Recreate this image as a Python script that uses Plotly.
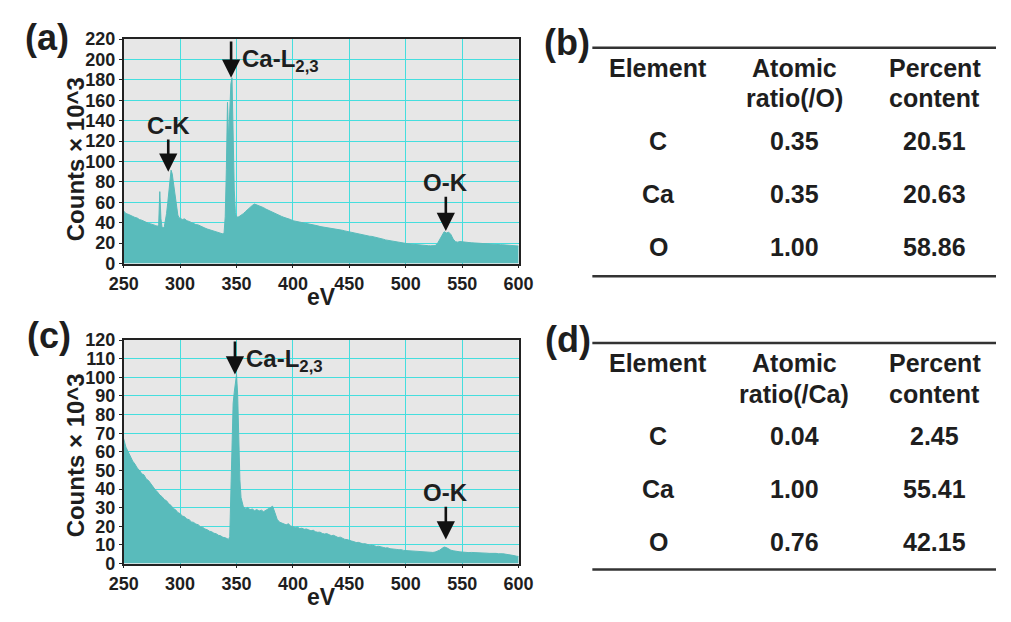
import plotly.graph_objects as go

# ---------------- data ----------------
energy_a = [250, 252, 254, 256, 258, 260, 262, 264, 266, 268, 270, 272, 274, 276, 278, 280,
            281, 282, 283, 284, 285, 286, 287, 288, 289, 290, 291, 292, 293, 294, 295, 296,
            297, 298, 299, 300, 302, 304, 306, 308, 310, 312, 314, 316, 318, 320, 322, 324,
            326, 328, 330, 332, 334, 336, 338, 339, 340, 341, 342, 343, 344, 345, 346, 347,
            348, 349, 350, 352, 354, 356, 358, 360, 362, 364, 366, 368, 370, 372, 374, 376,
            378, 380, 382, 384, 386, 388, 390, 392, 394, 396, 398, 400, 402, 404, 406, 408,
            410, 412, 414, 416, 418, 420, 422, 424, 426, 428, 430, 432, 434, 436, 438, 440,
            442, 444, 446, 448, 450, 452, 454, 456, 458, 460, 462, 464, 466, 468, 470, 472,
            474, 476, 478, 480, 482, 484, 486, 488, 490, 492, 494, 496, 498, 500, 502, 504,
            506, 508, 510, 512, 514, 516, 518, 520, 522, 524, 526, 528, 530, 532, 534, 536,
            538, 540, 542, 544, 546, 548, 550, 552, 554, 556, 558, 560, 562, 564, 566, 568,
            570, 572, 574, 576, 578, 580, 582, 584, 586, 588, 590, 592, 594, 596, 598, 600]
counts_a = [51.5, 49.0, 48.3, 47.0, 46.4, 45.2, 44.6, 43.1, 42.5, 41.2, 40.6, 39.4, 38.9, 37.8, 37.4, 36.5,
            38.0, 70.5, 44.0, 35.5, 34.8, 36.0, 41.0, 49.0, 59.0, 72.0, 84.0, 91.5, 88.0, 79.0, 70.0, 62.0,
            52.0, 47.5, 45.0, 44.5, 43.2, 43.8, 42.0, 41.3, 40.1, 39.6, 38.2, 37.9, 36.6, 36.0, 34.8, 33.9,
            33.2, 32.4, 31.5, 30.9, 30.2, 29.6, 29.0, 30.5, 46.0, 92.0, 158.0, 121.0, 146.0, 176.0, 182.0, 118.0,
            72.0, 50.0, 45.5, 45.8, 47.2, 48.9, 51.0, 53.2, 55.1, 57.0, 58.3, 57.6, 56.9, 55.6, 54.8, 53.4,
            52.3, 51.0, 50.2, 48.9, 48.1, 47.0, 46.2, 45.3, 44.8, 43.7, 43.1, 42.0, 41.6, 41.0, 40.6, 40.2,
            39.8, 39.5, 39.0, 38.4, 38.0, 37.4, 37.0, 36.3, 36.0, 35.4, 35.0, 34.6, 34.3, 34.0, 33.6, 33.4,
            33.0, 32.6, 32.0, 31.5, 31.0, 30.3, 29.8, 29.4, 28.7, 28.3, 27.8, 27.5, 27.1, 26.8, 26.6, 26.2,
            25.6, 25.0, 24.4, 23.9, 23.2, 22.8, 22.1, 21.7, 21.2, 20.9, 20.6, 20.3, 20.1, 19.8, 19.4, 19.2,
            18.9, 18.7, 18.5, 18.2, 18.0, 17.8, 17.7, 17.5, 17.4, 17.2, 17.6, 19.5, 23.5, 28.0, 31.2, 30.0,
            30.8, 28.5, 24.0, 21.5, 21.0, 21.6, 21.2, 20.8, 21.0, 20.6, 20.4, 20.2, 20.3, 19.9, 19.8, 19.6,
            19.4, 19.3, 19.1, 19.0, 18.9, 18.7, 18.6, 18.5, 18.4, 18.3, 18.1, 18.0, 17.8, 17.6, 17.4, 17.2]

energy_c = [250, 252, 254, 256, 258, 260, 262, 264, 266, 268, 270, 272, 274, 276, 278, 280,
            282, 284, 286, 288, 290, 292, 294, 296, 298, 300, 302, 304, 306, 308, 310, 312,
            314, 316, 318, 320, 322, 324, 326, 328, 330, 332, 334, 336, 338, 340, 342, 343,
            344, 345, 346, 347, 348, 349, 350, 351, 352, 353, 354, 355, 356, 358, 360, 362,
            364, 366, 368, 370, 372, 374, 376, 378, 380, 382, 384, 386, 388, 390, 392, 394,
            396, 398, 400, 402, 404, 406, 408, 410, 412, 414, 416, 418, 420, 422, 424, 426,
            428, 430, 432, 434, 436, 438, 440, 442, 444, 446, 448, 450, 452, 454, 456, 458,
            460, 462, 464, 466, 468, 470, 472, 474, 476, 478, 480, 482, 484, 486, 488, 490,
            492, 494, 496, 498, 500, 502, 504, 506, 508, 510, 512, 514, 516, 518, 520, 522,
            524, 526, 528, 530, 532, 534, 536, 538, 540, 542, 544, 546, 548, 550, 552, 554,
            556, 558, 560, 562, 564, 566, 568, 570, 572, 574, 576, 578, 580, 582, 584, 586,
            588, 590, 592, 594, 596, 598, 600]
counts_c = [67.0, 62.5, 60.0, 57.2, 55.0, 53.4, 51.3, 50.1, 48.2, 47.6, 45.4, 44.6, 42.8, 41.3, 39.6, 38.4,
            36.8, 35.9, 34.4, 33.7, 32.1, 31.2, 29.6, 28.9, 27.4, 26.8, 25.6, 25.1, 23.9, 23.6, 22.4, 22.1,
            21.2, 20.9, 19.8, 19.5, 18.6, 18.2, 17.4, 17.1, 16.3, 16.0, 15.2, 14.9, 14.1, 13.9, 13.2, 13.0,
            14.5, 42.0, 76.0, 86.0, 92.0, 98.0, 101.5, 91.0, 62.0, 45.0, 35.5, 32.0, 30.6, 29.4, 30.1, 28.9,
            29.3, 28.4, 29.0, 28.2, 28.7, 27.9, 28.6, 29.2, 30.0, 30.8, 27.4, 23.8, 22.3, 21.9, 21.2, 20.8,
            21.4, 20.2, 19.8, 19.3, 19.6, 18.8, 19.0, 18.4, 18.6, 18.0, 17.6, 17.9, 17.1, 16.8, 16.9, 16.2,
            15.9, 16.1, 15.4, 15.0, 15.2, 14.5, 14.0, 14.2, 13.4, 13.0, 12.9, 12.3, 12.1, 11.8, 11.3, 11.4,
            10.8, 10.6, 10.7, 10.1, 9.9, 10.0, 9.5, 9.2, 9.3, 8.8, 8.7, 8.4, 8.5, 8.0, 7.9, 8.1,
            7.6, 7.4, 7.5, 7.1, 7.0, 6.8, 7.0, 6.6, 6.5, 6.7, 6.3, 6.2, 6.4, 6.0, 6.1, 5.9,
            6.0, 6.2, 6.5, 7.2, 8.1, 8.9, 8.6, 7.8, 7.2, 6.9, 6.6, 6.7, 6.3, 6.2, 6.0, 6.1,
            5.9, 6.0, 6.0, 5.8, 5.9, 5.7, 5.8, 5.7, 5.6, 5.5, 5.6, 5.4, 5.5, 5.3, 5.4, 5.3,
            5.1, 5.0, 4.8, 4.6, 4.3, 4.0, 3.8]

x_ticks = [250, 300, 350, 400, 450, 500, 550, 600]
y_ticks_a = [0, 20, 40, 60, 80, 100, 120, 140, 160, 180, 200, 220]
y_ticks_c = [0, 10, 20, 30, 40, 50, 60, 70, 80, 90, 100, 110, 120]

table_headers_b = ["Element", "Atomic<br>ratio(/O)", "Percent<br>content"]
table_headers_d = ["Element", "Atomic<br>ratio(/Ca)", "Percent<br>content"]
elements = ["C", "Ca", "O"]
ratio_b = ["0.35", "0.35", "1.00"]
percent_b = ["20.51", "20.63", "58.86"]
ratio_d = ["0.04", "1.00", "0.76"]
percent_d = ["2.45", "55.41", "42.15"]

# ---------------- style ----------------
W, H = 1011, 622
FONT = "Liberation Sans, Arial, Helvetica, sans-serif"
TEAL = "#59bbbb"
GRID = "#45dede"
BG = "#e7e7e7"
INK = "#1e1e1e"


def px(x):
    return x / W


def py(y):
    return 1 - y / H


fig = go.Figure()
fig.add_trace(go.Scatter(x=energy_a, y=counts_a, mode="lines", fill="tozeroy",
                         fillcolor=TEAL, line=dict(color=TEAL, width=1),
                         xaxis="x", yaxis="y", showlegend=False, hoverinfo="skip"))
fig.add_trace(go.Scatter(x=energy_c, y=counts_c, mode="lines", fill="tozeroy",
                         fillcolor=TEAL, line=dict(color=TEAL, width=1),
                         xaxis="x2", yaxis="y2", showlegend=False, hoverinfo="skip"))

axis_common = dict(showgrid=True, gridcolor=GRID, gridwidth=1.2, showline=True, mirror=True,
                   linecolor="#222222", linewidth=1.5, ticks="outside", ticklen=3,
                   tickcolor="#222222", zeroline=False,
                   tickfont=dict(family=FONT, size=18, color=INK, weight="bold"))

fig.update_layout(
    width=W, height=H, margin=dict(l=0, r=0, t=0, b=0),
    paper_bgcolor="white", plot_bgcolor=BG, showlegend=False,
    xaxis=dict(domain=[px(112), px(519)], range=[250, 600], tickvals=x_ticks, anchor="y", **axis_common),
    yaxis=dict(domain=[py(262), py(30)], range=[0, 220], tickvals=y_ticks_a, anchor="x", **axis_common),
    xaxis2=dict(domain=[px(112), px(519)], range=[250, 600], tickvals=x_ticks, anchor="y2", **axis_common),
    yaxis2=dict(domain=[py(572), py(341)], range=[0, 120], tickvals=y_ticks_c, anchor="x2", **axis_common),
)

ann = []


def text(x, y, s, size, xref="paper", yref="paper", xanchor="center", yanchor="middle", angle=0, bold=True):
    ann.append(dict(x=x, y=y, xref=xref, yref=yref, text=s, showarrow=False,
                    xanchor=xanchor, yanchor=yanchor, textangle=angle,
                    font=dict(family=FONT, size=size, color=INK, weight="bold" if bold else "normal")))


def arrow(xref, yref, x, y_tail, y_head):
    ann.append(dict(x=x, y=y_head, ax=x, ay=y_tail, xref=xref, yref=yref, axref=xref, ayref=yref,
                    text="", showarrow=True, arrowhead=2, arrowsize=1.4, arrowwidth=2.6,
                    arrowcolor="#111111", standoff=0, startstandoff=0))


# panel labels
text(px(33), py(28), "(a)", 36)
text(px(35), py(336), "(c)", 36)
text(px(569), py(34), "(b)", 36)
text(px(570), py(340), "(d)", 36)

# axis titles
text(px(62), py(154), "Counts × 10^3", 24, angle=-90)
text(px(62), py(460), "Counts × 10^3", 24, angle=-90)
text(px(316), py(297), "eV", 23)
text(px(316), py(607), "eV", 23)

# peak labels (a)
text(289.5, 135, "C-K", 24, xref="x", yref="y")
arrow("x", "y", 289.5, 123, 90)
text(353.5, 199, "Ca-L<sub>2,3</sub>", 24, xref="x", yref="y", xanchor="left")
arrow("x", "y", 345.2, 219, 182)
text(535, 79, "O-K", 24, xref="x", yref="y")
arrow("x", "y", 535.5, 67, 32)

# peak labels (c)
text(356.5, 109, "Ca-L<sub>2,3</sub>", 24, xref="x2", yref="y2", xanchor="left")
arrow("x2", "y2", 348.6, 120, 101.5)
text(535, 38, "O-K", 24, xref="x2", yref="y2")
arrow("x2", "y2", 535.5, 31.3, 13.0)

# tables
col_x = [663, 803, 948]
shapes = []


def table(top_line, bottom_line, head1, head2, rows_y, headers, ratios, percents):
    shapes.append(dict(type="line", xref="paper", yref="paper", x0=px(595), x1=1.0,
                       y0=py(top_line), y1=py(top_line), line=dict(color="#333333", width=2.5)))
    shapes.append(dict(type="line", xref="paper", yref="paper", x0=px(595), x1=1.0,
                       y0=py(bottom_line), y1=py(bottom_line), line=dict(color="#333333", width=2.5)))
    for cx, h in zip(col_x, headers):
        lines = h.split("<br>")
        text(px(cx), py(head1), lines[0], 25)
        if len(lines) > 1:
            text(px(cx), py(head2), lines[1], 25)
    for ry, e, r, p in zip(rows_y, elements, ratios, percents):
        text(px(col_x[0]), py(ry), e, 25)
        text(px(col_x[1]), py(ry), r, 25)
        text(px(col_x[2]), py(ry), p, 25)


table(39, 275, 60, 91, [135, 190, 245], table_headers_b, ratio_b, percent_b)
table(344, 578, 365, 397, [440, 495, 550], table_headers_d, ratio_d, percent_d)

fig.update_layout(annotations=ann, shapes=shapes)
fig.write_html("out.html")
